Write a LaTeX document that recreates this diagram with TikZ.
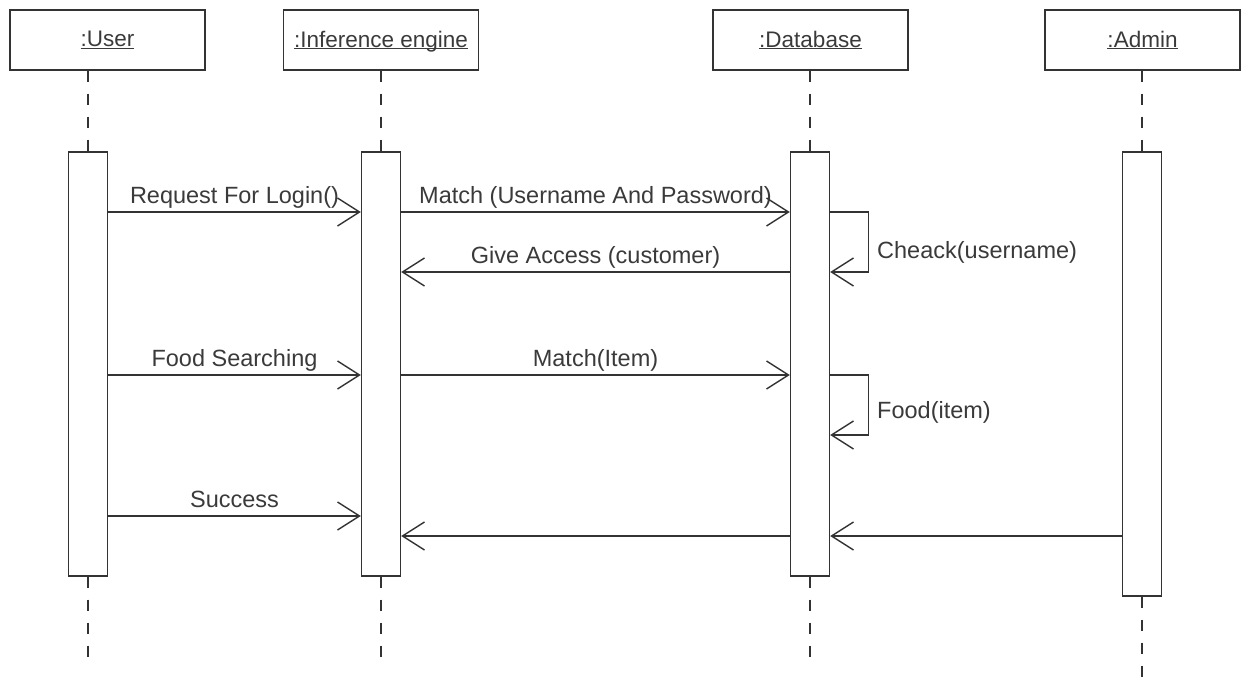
\documentclass[tikz,border=0pt]{standalone}
\usepackage{fontspec}
\setmainfont{Liberation Sans}
\usetikzlibrary{arrows.meta}
\definecolor{lc}{HTML}{333333}
\definecolor{tc}{HTML}{3A3A3A}
\newcommand{\hdtext}[1]{\underline{\raisebox{0pt}[\height][0pt]{#1}}}
\begin{document}
\begin{tikzpicture}[x=1pt,y=-1pt,
  head/.style={draw=lc, line width=1.4pt, minimum width=195pt, minimum height=60pt, inner sep=0pt, text=tc, font=\fontsize{22.5}{26}\selectfont},
  bar/.style={draw=lc, fill=white, line width=1.4pt, minimum width=39pt, inner sep=0pt},
  life/.style={draw=lc, line width=1.4pt, dash pattern=on 11pt off 12pt},
  msg/.style={draw=lc, line width=1.4pt, -{Straight Barb[length=22pt,width=28pt,line width=1.4pt]}},
  lbl/.style={text=tc, font=\fontsize{23.5}{27}\selectfont, inner sep=0pt}
]
\useasboundingbox (0,0) rectangle (1243,677);

% heads
\node[head] (hu) at (107.5,40) {\hdtext{:User}};
\node[head] (hi) at (381,40) {\hdtext{:Inference engine}};
\node[head] (hd) at (810.5,40) {\hdtext{:Database}};
\node[head] (ha) at (1142.5,40) {\hdtext{:Admin}};

% activation bars
\node[bar, minimum height=424pt] (bu) at (88,364) {};
\node[bar, minimum height=424pt] (bi) at (381,364) {};
\node[bar, minimum height=424pt] (bd) at (810,364) {};
\node[bar, minimum height=444pt] (ba) at (1142,374) {};

% lifeline ends
\coordinate (eu) at (88,660);
\coordinate (ei) at (381,660);
\coordinate (ed) at (810,660);
\coordinate (ea) at (1142,677);

% lifelines
\draw[life] (bu.north |- hu.south) -- (bu.north);
\draw[life] (hi.south) -- (bi.north);
\draw[life] (bd.north |- hd.south) -- (bd.north);
\draw[life] (ba.north |- ha.south) -- (ba.north);
\draw[life] (bu.south) -- (eu);
\draw[life] (bi.south) -- (ei);
\draw[life] (bd.south) -- (ed);
\draw[life] (ba.south) -- (ea);

% message levels
\coordinate (y1) at (0,212);
\coordinate (y2) at (0,272);
\coordinate (y3) at (0,375);
\coordinate (y4) at (0,435);
\coordinate (y5) at (0,516);
\coordinate (y6) at (0,536);

% messages
\draw[msg] (bu.east |- y1) -- node[lbl, midway, anchor=base, yshift=9pt] {Request For Login()} (bi.west |- y1);
\draw[msg] (bi.east |- y1) -- node[lbl, midway, anchor=base, yshift=9pt] {Match (Username And Password)} (bd.west |- y1);
\draw[msg] (bd.east |- y1) -- ++(38,0) |- (bd.east |- y2);
\node[lbl, anchor=base west] (c1) at (877,258) {Cheack(username)};
\draw[msg] (bd.west |- y2) -- node[lbl, midway, anchor=base, yshift=9pt] {Give Access (customer)} (bi.east |- y2);

\draw[msg] (bu.east |- y3) -- node[lbl, midway, anchor=base, yshift=9pt] {Food Searching} (bi.west |- y3);
\draw[msg] (bi.east |- y3) -- node[lbl, midway, anchor=base, yshift=9pt] {Match(Item)} (bd.west |- y3);
\draw[msg] (bd.east |- y3) -- ++(38,0) |- (bd.east |- y4);
\node[lbl, anchor=base west] (c2) at (877,418) {Food(item)};

\draw[msg] (bu.east |- y5) -- node[lbl, midway, anchor=base, yshift=9pt] {Success} (bi.west |- y5);
\draw[msg] (bd.west |- y6) -- (bi.east |- y6);
\draw[msg] (ba.west |- y6) -- (bd.east |- y6);
\end{tikzpicture}
\end{document}
